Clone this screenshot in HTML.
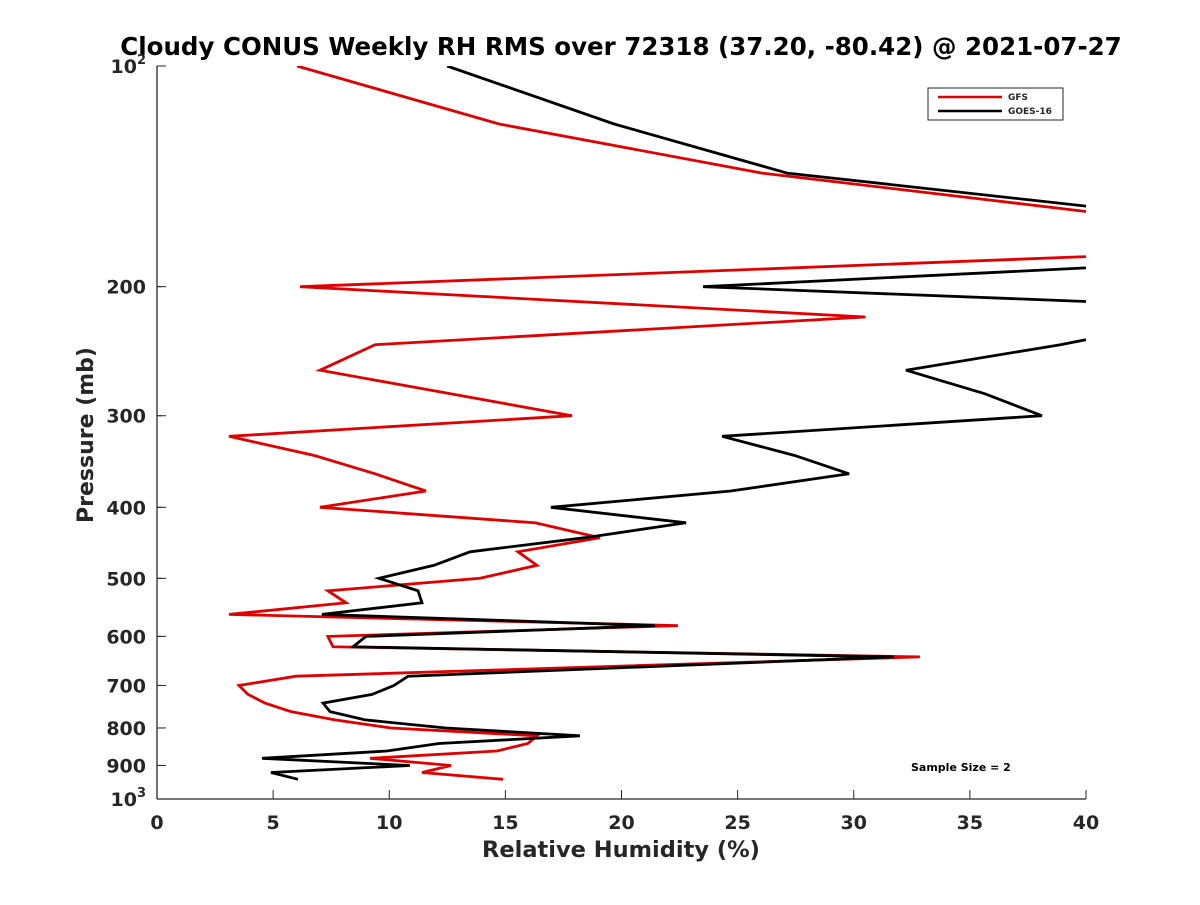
<!DOCTYPE html>
<html><head><meta charset="utf-8"><style>
body{margin:0;background:#fff}
svg text{font-family:"DejaVu Sans","Liberation Sans",sans-serif;font-weight:bold;fill:#262626}
</style></head><body>
<svg id="chart" width="1200" height="900" xmlns="http://www.w3.org/2000/svg">
<rect width="1200" height="900" fill="#fff"/>
<defs><clipPath id="plotclip"><rect x="157" y="66" width="929" height="733"/></clipPath></defs>
<text x="621" y="55" font-size="24.5" text-anchor="middle" style="fill:#000">Cloudy CONUS Weekly RH RMS over 72318 (37.20, -80.42) @ 2021-07-27</text>
<g id="axes"></g>
<g id="series" clip-path="url(#plotclip)"></g>
<g>
<rect x="928" y="88" width="135" height="32" fill="#fff" stroke="#262626" stroke-width="1"/>
<line x1="938" y1="97" x2="1002" y2="97" stroke="#e00000" stroke-width="2.5"/>
<text x="1008" y="100" font-size="9">GFS</text>
<line x1="938" y1="111" x2="1002" y2="111" stroke="#000" stroke-width="2.5"/>
<text x="1008" y="114" font-size="9">GOES-16</text>
</g>
<text x="911" y="771" font-size="11" style="fill:#000">Sample Size = 2</text>
<text x="621" y="857" font-size="22.5" text-anchor="middle">Relative Humidity (%)</text>
<text x="0" y="0" font-size="22" text-anchor="middle" transform="translate(93,435) rotate(-90)">Pressure (mb)</text>
</svg>
<script>
const xTicks=[0,5,10,15,20,25,30,35,40];
const yTicks=[100,200,300,400,500,600,700,800,900,1000];
const gfsP=[100,120,140,160,180,200,220,240,260,300,320,340,360,380,400,420,440,460,480,500,520,540,560,580,600,620,640,680,700,720,740,760,780,800,820,840,860,880,900,920,940];
const gfsRH=[6.03,14.73,26.05,41.5,44,6.16,30.5,9.39,7.02,17.87,3.10,6.80,9.39,11.58,7.02,16.28,19.07,15.54,16.36,13.91,7.36,8.14,3.10,22.43,7.36,7.58,32.85,5.98,3.53,3.92,4.65,5.77,7.66,10.08,16.36,15.97,14.64,9.17,12.66,11.41,14.90];
const goesP=[100,120,140,160,180,200,210,220,240,260,280,300,320,340,360,380,400,420,440,460,480,500,520,540,560,580,600,620,640,680,700,720,740,760,780,800,820,840,860,880,900,920,940];
const goesRH=[12.49,19.68,27.13,43.7,53,23.51,40.8,45,38.9,32.25,35.65,38.10,24.33,27.47,29.80,24.71,16.96,22.78,18.43,13.48,11.93,9.56,11.24,11.41,7.10,21.44,9.00,8.44,31.73,10.81,10.20,9.26,7.15,7.45,8.96,12.44,18.21,12.14,9.90,4.52,10.89,4.91,6.07];
const X0=157,X1=1086,Y0=66,Y1=799;
function xs(v){return X0+(v-0)/40*(X1-X0);}
function ys(p){return Y0+Math.log10(p/100)*(Y1-Y0);}
const NS='http://www.w3.org/2000/svg';
const axes=document.getElementById('axes');
function mk(t,a,parent){const e=document.createElementNS(NS,t);for(const k in a)e.setAttribute(k,a[k]);parent.appendChild(e);return e;}
const xl=mk('line',{x1:X0,y1:Y1,x2:X1,y2:Y1,stroke:'#262626','stroke-width':1.3},axes);


const yl=mk('line',{x1:X0,y1:Y0,x2:X0,y2:Y1,stroke:'#262626','stroke-width':1.3},axes);


xTicks.forEach(v=>{
  const x=xs(v);
  mk('line',{x1:x,y1:Y1,x2:x,y2:Y1-9,stroke:'#262626','stroke-width':1},axes);
  const t=mk('text',{x:x,y:829,'font-size':19,'text-anchor':'middle'},axes);
  t.textContent=v;
  
  
});
for(let p=100;p<=1000;p+=100){
  const y=ys(p);
  mk('line',{x1:X0,y1:y,x2:X0+(p===100||p===1000?9:5),y2:y,stroke:'#262626','stroke-width':1},axes);
}
yTicks.forEach(p=>{
  const y=ys(p);
  mk('line',{x1:X0,y1:y,x2:X0+9,y2:y,stroke:'#262626','stroke-width':1},axes);
  const t=mk('text',{x:146,y:y+7,'font-size':19,'text-anchor':'end'},axes);
  
  
  if(p===100||p===1000){
    t.textContent='10';
    const s=mk('tspan',{dy:-9,'font-size':13},t);
    s.textContent=p===100?'2':'3';
  } else t.textContent=p;
});
const sg=document.getElementById('series');
function line(P,V,color,name){
  const pts=P.map((p,i)=>xs(V[i]).toFixed(1)+','+ys(p).toFixed(1)).join(' ');
  const pl=mk('polyline',{points:pts,fill:'none',stroke:color,'stroke-width':2.8,'stroke-linejoin':'miter'},sg);
  
  
}
line(gfsP,gfsRH,'#e00000','gfs-line');
line(goesP,goesRH,'#000000','goes16-line');
</script>
</body></html>
